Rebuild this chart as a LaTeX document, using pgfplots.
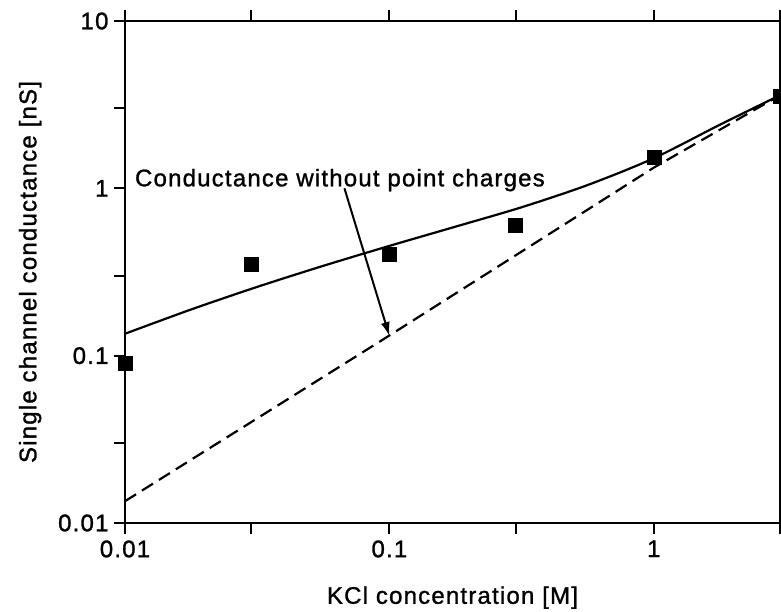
\documentclass[border=0pt]{standalone}
\usepackage{fontspec}
\setmainfont{Liberation Sans}[LetterSpace=5, FakeBold=1.2]
\usepackage{pgfplots}
\pgfplotsset{compat=1.18}
\usetikzlibrary{arrows.meta}
\begin{document}
\begin{tikzpicture}
\begin{axis}[
  scale only axis,
  width=655pt, height=502pt,
  xmode=log, ymode=log,
  xmin=0.01, xmax=3, ymin=0.01, ymax=10,
  axis line style={line width=2.6pt},
  tick align=outside,
  major tick length=11pt,
  every tick/.style={line width=2pt, black},
  xtick={0.01,0.03,0.1,0.3,1,3},
  xticklabels={0.01,,0.1,,1,},
  ytick={0.01,0.03,0.1,0.3,1,3,10},
  yticklabels={0.01,,0.1,,1,,10},
  xtick pos=both, ytick pos=left,
  minor tick num=0,
  xminorticks=false, yminorticks=false,
  tick label style={font=\fontsize{24}{28}\selectfont},
  xticklabel style={yshift=-3pt},
  yticklabel style={xshift=-2pt},
  label style={font=\fontsize{24}{28}\selectfont},
  xlabel={KCl concentration [M]},
  ylabel={Single channel conductance [nS]},
  xlabel style={yshift=-22pt},
  ylabel style={yshift=10pt},
  clip mode=individual,
]
% fitted curve (with point charges)
\addplot[black, line width=2.2pt, smooth, tension=0.5] coordinates {
  (0.01,0.1352) (0.01778,0.1888) (0.03162,0.2576) (0.05623,0.3443)
  (0.1,0.4529) (0.1778,0.5902) (0.3162,0.7709) (0.5623,1.047)
  (1,1.514) (1.778,2.40) (3,3.60)
};
% conductance without point charges
\addplot[black, line width=2.2pt, dash pattern=on 13pt off 7pt] coordinates {
  (0.01,0.0135) (0.1,0.132) (1,1.33) (3,3.60)
};
% experimental data
\addplot[only marks, mark=square*, mark size=7pt, black] coordinates {
  (0.01,0.09) (0.03,0.353) (0.1,0.405) (0.3,0.60) (1,1.53) (3,3.53)
};
\node[anchor=west, inner sep=0pt, font=\fontsize{24}{28}\selectfont]
  at (axis cs:0.0109,1.12) {Conductance without point charges};
\draw[-{Latex[length=14pt,width=9pt]}, line width=2pt]
  (axis cs:0.0676,1.0) -- (axis cs:0.1,0.131);
\end{axis}
\pgfresetboundingbox
\path[use as bounding box] ([xshift=-125pt,yshift=-89pt]current axis.south west)
  rectangle ([xshift=1pt,yshift=21pt]current axis.north east);
\end{tikzpicture}
\end{document}
